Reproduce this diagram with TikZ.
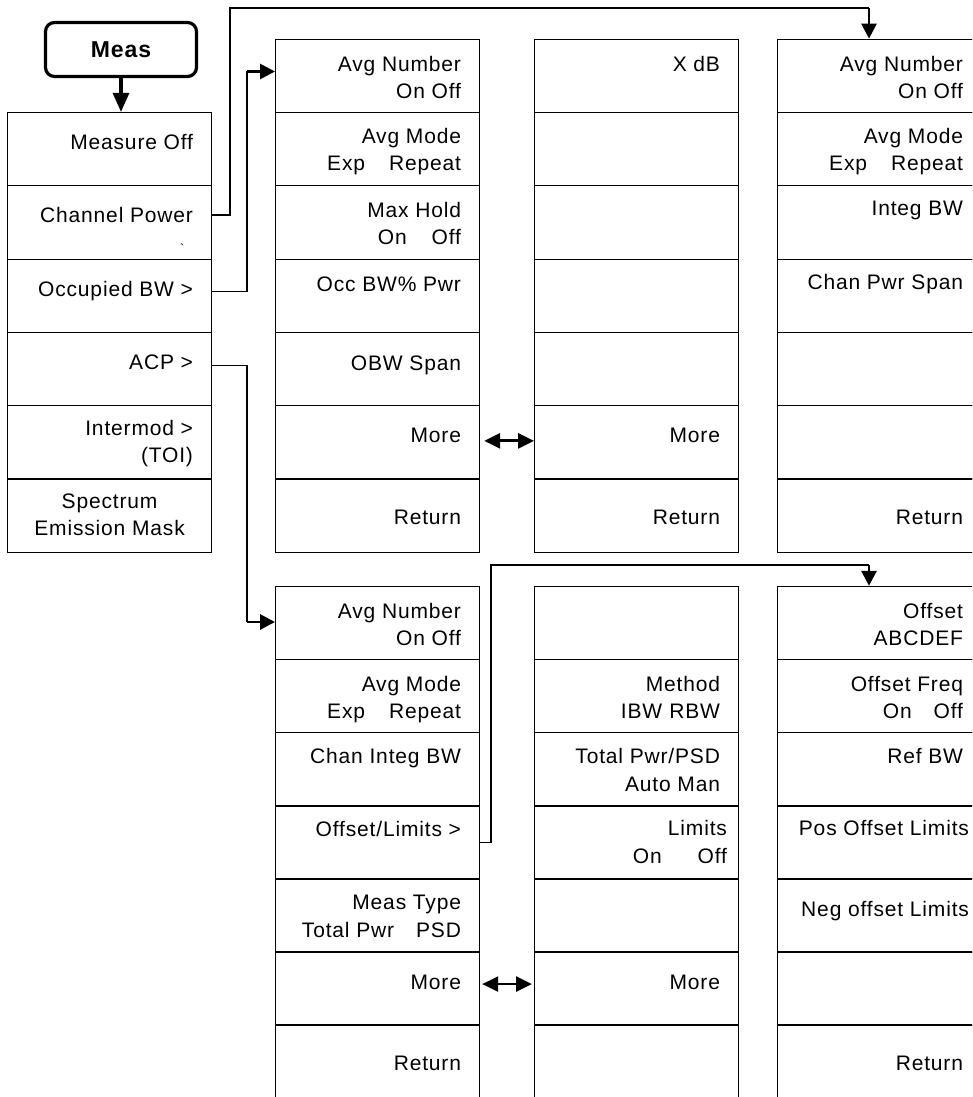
\documentclass[tikz,border=0pt]{standalone}
\usepackage{fontspec}
\newfontfamily\keyfont{Liberation Sans}[LetterSpace=4]
\usetikzlibrary{arrows.meta}

\tikzset{
  key/.style={draw, line width=1.2pt, minimum width=204pt, minimum height=73.3pt,
    inner sep=0pt, anchor=north west},
  keytxt/.style={anchor=north east, inner sep=0pt, align=right,
    font=\keyfont\fontsize{21}{27.5}\selectfont, execute at begin node=\rule{0pt}{15.5pt}},
  hardkey/.style={draw, line width=3.2pt, rounded corners=9pt, minimum width=151pt,
    minimum height=54pt, inner sep=0pt, font=\keyfont\bfseries\fontsize{23}{27}\selectfont},
  link/.style={line width=1.2pt},
  arrowtip/.style={line width=2.8pt, -{Triangle[length=15pt,width=15pt]}},
  twoway/.style={line width=2.8pt, {Triangle[length=16pt,width=15pt]}-{Triangle[length=16pt,width=15pt]}},
}

\begin{document}
\begin{tikzpicture}[x=1pt,y=-1pt]
\useasboundingbox (0,0) rectangle (972,1097);
\clip (0,0) rectangle (972,1097);

% front panel key
\node[hardkey] (meas) at (121,49.5) {Meas};

% Meas menu
\foreach \i in {1,...,6}
  \node[key] (m\i) at (7,{111.9+(\i-1)*73.3}) {};
\draw[line width=3.2pt, -{Triangle[length=19pt,width=16pt]}] (meas.south) -- (meas.south |- m1.north);
\node[keytxt] (m1t) at ([shift={(-19,22)}]m1.north east) {Measure Off};
\node[keytxt] (m2t) at ([shift={(-19,22)}]m2.north east) {Channel Power};
\node[inner sep=0pt, font=\keyfont\fontsize{13}{13}\selectfont] (m2x) at ([shift={(-30,64)}]m2.north east) {\textasciigrave};
\node[keytxt] (m3t) at ([shift={(-19,22.5)}]m3.north east) {Occupied BW >};
\node[keytxt] (m4t) at ([shift={(-19,22)}]m4.north east) {ACP >};
\node[keytxt] (m5t) at ([shift={(-19,14.5)}]m5.north east) {Intermod >\\(TOI)};
\node[keytxt, anchor=north, align=center] (m6t) at ([yshift=-15pt]m6.north) {Spectrum\\Emission Mask};

% Occupied BW menu, page 1 and 2
\foreach \i in {1,...,7} {
  \node[key] (o\i) at (275,{38.6+(\i-1)*73.3}) {};
  \node[key] (x\i) at (534,{38.6+(\i-1)*73.3}) {};
}
\node[keytxt] (o1t) at ([shift={(-19,17)}]o1.north east) {Avg Number\\On Off};
\node[keytxt] (o2t) at ([shift={(-19,16)}]o2.north east) {Avg Mode\\Exp\hspace{24pt}Repeat};
\node[keytxt] (o3t) at ([shift={(-19,16.5)}]o3.north east) {Max Hold\\On\hspace{25pt}Off};
\node[keytxt] (o4t) at ([shift={(-19,17)}]o4.north east) {Occ BW\% Pwr};
\node[keytxt] (o5t) at ([shift={(-19,22.5)}]o5.north east) {OBW Span};
\node[keytxt] (o6t) at ([shift={(-19,22)}]o6.north east) {More};
\node[keytxt] (o7t) at ([shift={(-19,30)}]o7.north east) {Return};
\node[keytxt] (x1t) at ([shift={(-19,17)}]x1.north east) {X dB};
\node[keytxt] (x6t) at ([shift={(-19,22)}]x6.north east) {More};
\node[keytxt] (x7t) at ([shift={(-19,30)}]x7.north east) {Return};

% Channel Power menu
\foreach \i in {1,...,7}
  \node[key] (p\i) at (777,{38.6+(\i-1)*73.3}) {};
\node[keytxt] (p1t) at ([shift={(-19,17)}]p1.north east) {Avg Number\\On Off};
\node[keytxt] (p2t) at ([shift={(-19,16)}]p2.north east) {Avg Mode\\Exp\hspace{24pt}Repeat};
\node[keytxt] (p3t) at ([shift={(-19,15)}]p3.north east) {Integ BW};
\node[keytxt] (p4t) at ([shift={(-19,15.5)}]p4.north east) {Chan Pwr Span};
\node[keytxt] (p7t) at ([shift={(-19,30)}]p7.north east) {Return};

% ACP menu, page 1 and 2
\foreach \i in {1,...,6} {
  \node[key] (a\i) at (275,{585.8+(\i-1)*73.1}) {};
  \node[key] (l\i) at (534,{585.8+(\i-1)*73.1}) {};
  \node[key] (f\i) at (777,{585.8+(\i-1)*73.1}) {};
}
\node[key, minimum height=110pt] (a7) at (275,1024.4) {};
\node[key, minimum height=110pt] (l7) at (534,1024.4) {};
\node[key, minimum height=110pt] (f7) at (777,1024.4) {};
\node[keytxt] (a1t) at ([shift={(-19,17)}]a1.north east) {Avg Number\\On Off};
\node[keytxt] (a2t) at ([shift={(-19,17)}]a2.north east) {Avg Mode\\Exp\hspace{24pt}Repeat};
\node[keytxt] (a3t) at ([shift={(-19,16)}]a3.north east) {Chan Integ BW};
\node[keytxt] (a4t) at ([shift={(-19,16)}]a4.north east) {Offset/Limits >};
\node[keytxt] (a5t) at ([shift={(-19,17)}]a5.north east) {Meas Type\\Total Pwr\hspace{22pt}PSD};
\node[keytxt] (a6t) at ([shift={(-19,22)}]a6.north east) {More};
\node[keytxt] (a7t) at ([shift={(-19,30.5)}]a7.north east) {Return};
\node[keytxt] (l2t) at ([shift={(-19,17)}]l2.north east) {Method\\IBW\hspace{7pt}RBW};
\node[keytxt] (l3t) at ([shift={(-19,16.5)}]l3.north east) {Total Pwr/PSD\\Auto Man};
\node[keytxt] (l4t) at ([shift={(-12,15)}]l4.north east) {Limits\\On\hspace{36pt}Off};
\node[keytxt] (l6t) at ([shift={(-19,22)}]l6.north east) {More};

% Offset/Limits menu
\node[keytxt] (f1t) at ([shift={(-19,17)}]f1.north east) {Offset\\ABCDEF};
\node[keytxt] (f2t) at ([shift={(-19,17)}]f2.north east) {Offset Freq\\On\hspace{22pt}Off};
\node[keytxt] (f3t) at ([shift={(-19,16)}]f3.north east) {Ref BW};
\node[keytxt] (f4t) at ([shift={(-13,15)}]f4.north east) {Pos Offset Limits};
\node[keytxt] (f5t) at ([shift={(-13,23)}]f5.north east) {Neg offset Limits};
\node[keytxt] (f7t) at ([shift={(-19,30)}]f7.north east) {Return};

% connectors
\coordinate (cpa) at (230,8);
\coordinate (cpb) at (869,8);
\draw[link] ([yshift=7.5pt]m2.east) -| (cpa) -- (cpb);
\draw[arrowtip] (cpb) -- (cpb |- p1.north);

\coordinate (oba) at (247,71.5);
\draw[link] ([yshift=4.5pt]m3.east) -| (oba);
\draw[arrowtip] (oba) -- (oba -| o1.west);

\coordinate (acpa) at (247,622);
\draw[link] ([yshift=3.5pt]m4.east) -| (acpa);
\draw[arrowtip] (acpa) -- (acpa -| a1.west);

\coordinate (ofa) at (491,565);
\coordinate (ofb) at (869,565);
\draw[link] (a4.east) -| (ofa) -- (ofb);
\draw[arrowtip] (ofb) -- (ofb |- f1.north);

\draw[twoway] ([xshift=4pt,yshift=1.5pt]o6.east) -- ([yshift=1.5pt]x6.west);
\draw[twoway] ([xshift=2pt,yshift=4.5pt]a6.east) -- ([xshift=-2pt,yshift=4.5pt]l6.west);
\end{tikzpicture}
\end{document}
